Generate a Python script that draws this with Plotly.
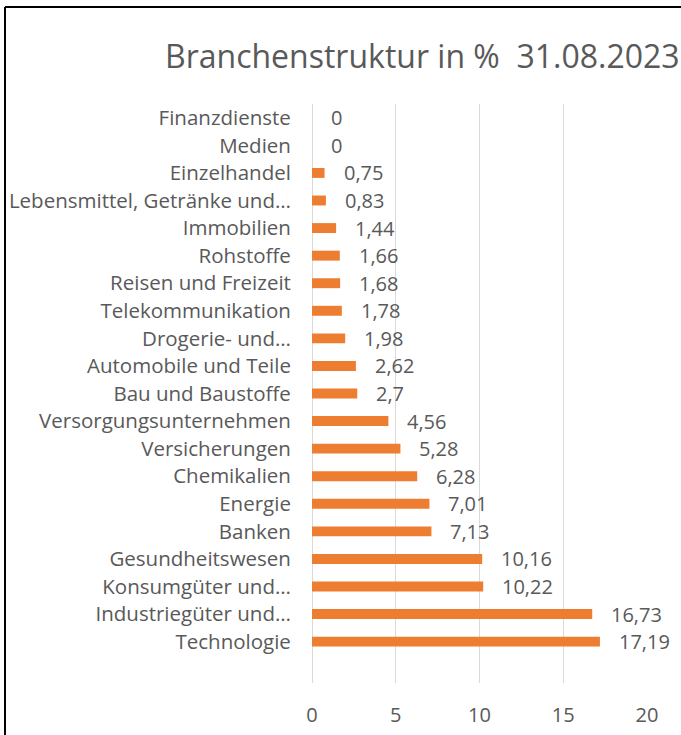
import plotly.graph_objects as go

# Data (bottom to top as drawn)
categories = [
    "Technologie",
    "Industriegüter und…",
    "Konsumgüter und…",
    "Gesundheitswesen",
    "Banken",
    "Energie",
    "Chemikalien",
    "Versicherungen",
    "Versorgungsunternehmen",
    "Bau und Baustoffe",
    "Automobile und Teile",
    "Drogerie- und…",
    "Telekommunikation",
    "Reisen und Freizeit",
    "Rohstoffe",
    "Immobilien",
    "Lebensmittel, Getränke und…",
    "Einzelhandel",
    "Medien",
    "Finanzdienste",
]
values = [17.19, 16.73, 10.22, 10.16, 7.13, 7.01, 6.28, 5.28, 4.56, 2.7,
          2.62, 1.98, 1.78, 1.68, 1.66, 1.44, 0.83, 0.75, 0, 0]
x_ticks = [0, 5, 10, 15, 20]
title_text = "Branchenstruktur in %  31.08.2023"

W, H = 681, 735
L, R, T, B = 312, 681 - 647, 104, 735 - 683
pw, ph = W - L - R, H - T - B

FONT = "Open Sans"
GRAY = "#595959"

fig = go.Figure()
fig.add_trace(go.Bar(
    x=values, y=categories, orientation="h",
    marker=dict(color="#ED7D31", line=dict(width=0)),
    hoverinfo="x+y",
))

def fmt(v):
    return ("%g" % v).replace(".", ",")

annotations = []
for c, v in zip(categories, values):
    annotations.append(dict(
        x=v, y=c, xref="x", yref="y", text=fmt(v), showarrow=False,
        xanchor="left", yanchor="middle", xshift=17,
        font=dict(family=FONT, size=20, color=GRAY),
    ))

annotations.append(dict(
    x=(422 - L) / pw, y=1 + (T - 56) / ph, xref="paper", yref="paper",
    text=title_text, showarrow=False, xanchor="center", yanchor="middle",
    font=dict(family=FONT, size=32, color=GRAY),
))

shapes = [
    dict(type="line", xref="paper", yref="paper",
         x0=(5 - L) / pw, x1=(5 - L) / pw, y0=1 + (T - 7) / ph, y1=-(B + 5) / ph,
         line=dict(color="black", width=2)),
    dict(type="line", xref="paper", yref="paper",
         x0=(5 - L) / pw, x1=(W + 5 - L) / pw, y0=1 + (T - 7) / ph, y1=1 + (T - 7) / ph,
         line=dict(color="black", width=2)),
]

fig.update_layout(
    width=W, height=H,
    margin=dict(l=L, r=R, t=T, b=B, pad=0, autoexpand=False),
    paper_bgcolor="white", plot_bgcolor="white",
    bargap=0.64,
    showlegend=False,
    separators=",.",
    annotations=annotations,
    shapes=shapes,
    xaxis=dict(
        range=[0, 20], tickvals=x_ticks, showgrid=True, gridcolor="#D9D9D9",
        gridwidth=1, zeroline=True, zerolinecolor="#D9D9D9", zerolinewidth=1,
        showline=False, automargin=False,
        ticks="outside", ticklen=0, ticklabelstandoff=14,
        tickfont=dict(family=FONT, size=20, color=GRAY),
        fixedrange=True,
    ),
    yaxis=dict(
        type="category", categoryorder="array", categoryarray=categories,
        range=[-1.5, 19.5], showgrid=False, zeroline=False, showline=False,
        automargin=False,
        ticks="outside", ticklen=0, ticklabelstandoff=16,
        tickfont=dict(family=FONT, size=20.5, color=GRAY),
        fixedrange=True,
    ),
)

fig.write_html(
    "out.html",
    config={"displayModeBar": False},
    post_script="document.body.style.margin='0px';document.body.style.overflow='hidden';",
)
